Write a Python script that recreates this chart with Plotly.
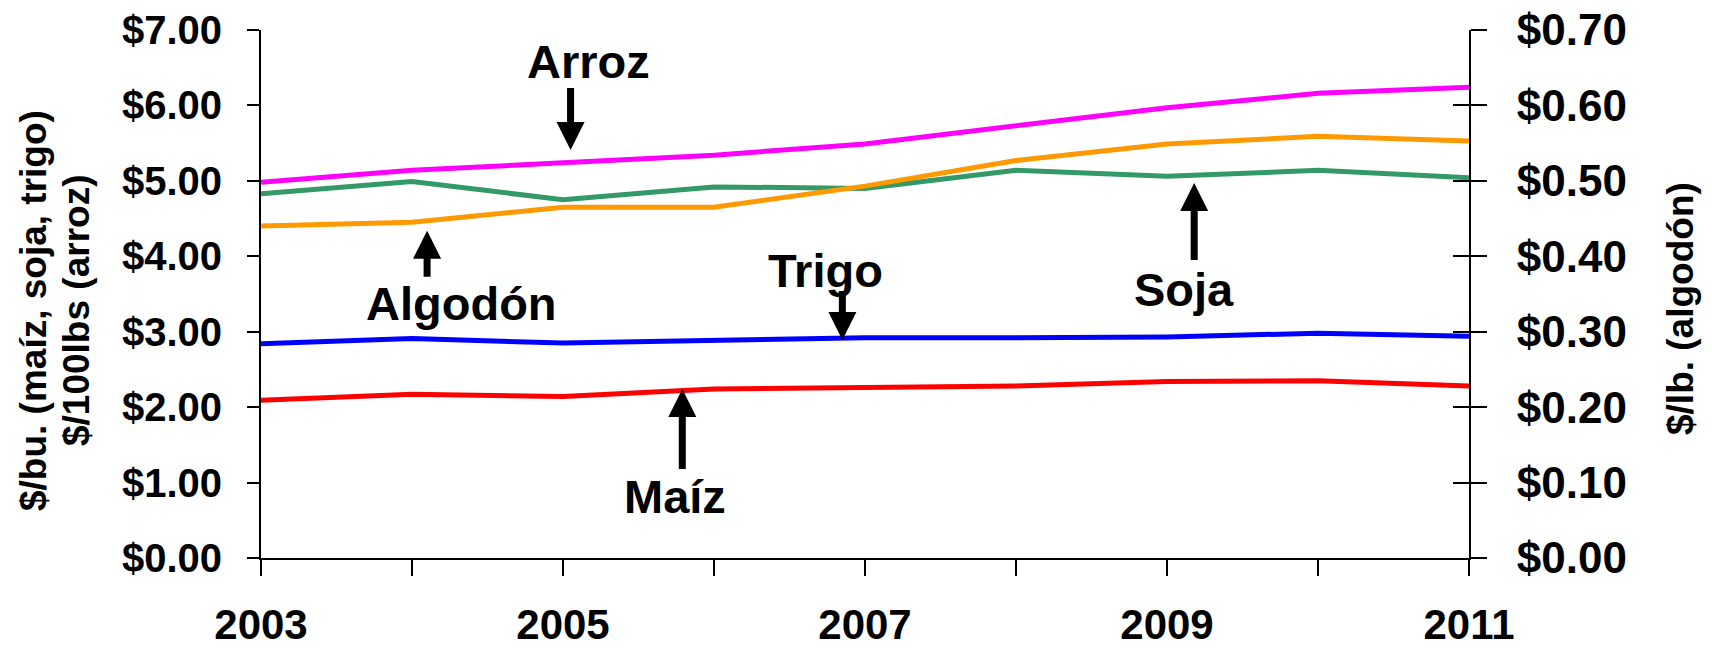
import plotly.graph_objects as go

years = [2003, 2004, 2005, 2006, 2007, 2008, 2009, 2010, 2011]
arroz = [4.98, 5.14, 5.24, 5.34, 5.49, 5.73, 5.97, 6.16, 6.24]
soja = [4.83, 4.99, 4.75, 4.92, 4.90, 5.14, 5.06, 5.14, 5.04]
algodon = [0.440, 0.445, 0.465, 0.465, 0.493, 0.527, 0.549, 0.559, 0.553]
trigo = [2.84, 2.91, 2.85, 2.88, 2.92, 2.92, 2.93, 2.98, 2.94]
maiz = [2.09, 2.17, 2.14, 2.24, 2.26, 2.28, 2.34, 2.35, 2.28]

x_ticktext = ["2003", "", "2005", "", "2007", "", "2009", "", "2011"]
left_ticks = [0, 1, 2, 3, 4, 5, 6, 7]
right_ticks = [0.0, 0.1, 0.2, 0.3, 0.4, 0.5, 0.6, 0.7]

FONT = "Liberation Sans, Arial, sans-serif"
LW = 5

fig = go.Figure()
fig.add_trace(go.Scatter(x=years, y=arroz, mode="lines", name="Arroz",
                         line=dict(color="#FF00FF", width=LW), yaxis="y"))
fig.add_trace(go.Scatter(x=years, y=soja, mode="lines", name="Soja",
                         line=dict(color="#339966", width=LW), yaxis="y"))
fig.add_trace(go.Scatter(x=years, y=algodon, mode="lines", name="Algodón",
                         line=dict(color="#FF9900", width=LW), yaxis="y2"))
fig.add_trace(go.Scatter(x=years, y=trigo, mode="lines", name="Trigo",
                         line=dict(color="#0000FF", width=LW), yaxis="y"))
fig.add_trace(go.Scatter(x=years, y=maiz, mode="lines", name="Maíz",
                         line=dict(color="#FF0000", width=LW), yaxis="y"))

label_font = dict(family=FONT, size=47, color="black", weight="bold")

# text labels: (text, x-year, y-value)
labels = [
    ("Arroz", 2005.17, 6.58),
    ("Algodón", 2004.33, 3.37),
    ("Trigo", 2006.74, 3.81),
    ("Soja", 2009.11, 3.56),
    ("Maíz", 2005.74, 0.81),
]
for t, xx, yy in labels:
    fig.add_annotation(x=xx, y=yy, xref="x", yref="y", text=t, showarrow=False,
                       font=label_font, xanchor="center", yanchor="middle")

# arrows: (x-year, tail value, tip value)
arrows = [
    (2005.05, 6.25, 5.41),
    (2004.10, 3.71, 4.34),
    (2006.85, 3.56, 2.89),
    (2009.18, 3.93, 4.97),
    (2005.79, 1.16, 2.24),
]
for xx, tail, tip in arrows:
    fig.add_annotation(x=xx, y=tip, xref="x", yref="y", ax=xx, ay=tail,
                       axref="x", ayref="y", text="", showarrow=True,
                       arrowhead=2, arrowsize=0.8, arrowwidth=7,
                       arrowcolor="black", standoff=0, startstandoff=0)

title_font = dict(family=FONT, size=37, color="black", weight="bold")
fig.add_annotation(x=0, y=0.5, xref="paper", yref="paper", xshift=-228, yshift=-17,
                   text="$/bu. (maíz, soja, trigo)", textangle=-90, showarrow=False,
                   font=title_font, xanchor="center", yanchor="middle")
fig.add_annotation(x=0, y=0.5, xref="paper", yref="paper", xshift=-185, yshift=-17,
                   text="$/100lbs (arroz)", textangle=-90, showarrow=False,
                   font=title_font, xanchor="center", yanchor="middle")
fig.add_annotation(x=1, y=0.5, xref="paper", yref="paper", xshift=211, yshift=-15,
                   text="$/lb. (algodón)", textangle=-90, showarrow=False,
                   font=title_font, xanchor="center", yanchor="middle")

fig.update_layout(
    width=1712, height=648,
    margin=dict(l=261, r=243, t=30, b=90),
    paper_bgcolor="white", plot_bgcolor="white",
    showlegend=False,
    xaxis=dict(range=[2003, 2011], tickvals=years, ticktext=x_ticktext,
               automargin=False, ticklabeloverflow="allow",
               showgrid=False, zeroline=False, showline=True, linecolor="black",
               linewidth=2, ticks="outside", ticklen=16, tickwidth=2,
               tickcolor="black", ticklabelstandoff=13,
               tickfont=dict(family=FONT, size=42, color="black", weight="bold")),
    yaxis=dict(range=[0, 7], tickvals=left_ticks, tickformat="$.2f",
               automargin=False, ticklabeloverflow="allow",
               showgrid=False, zeroline=False, showline=True, linecolor="black",
               linewidth=2, ticks="outside", ticklen=12, tickwidth=2,
               tickcolor="black", ticklabelstandoff=17,
               tickfont=dict(family=FONT, size=40, color="black", weight="bold")),
    yaxis2=dict(range=[0, 0.7], tickvals=right_ticks, tickformat="$.2f",
                overlaying="y", side="right", anchor="x", automargin=False,
                ticklabeloverflow="allow",
                showgrid=False, zeroline=False, showline=True, linecolor="black",
                linewidth=2, ticks="outside", ticklen=16, tickwidth=2,
                tickcolor="black", ticklabelstandoff=21,
                tickfont=dict(family=FONT, size=44, color="black", weight="bold")),
    yaxis3=dict(range=[0, 0.7], tickvals=right_ticks, overlaying="y",
                side="right", anchor="x", showticklabels=False, automargin=False,
                showgrid=False, zeroline=False, showline=False,
                ticks="inside", ticklen=16, tickwidth=2, tickcolor="black"),
)

# invisible trace to activate yaxis3 (inside ticks forming cross ticks on the right axis)
fig.add_trace(go.Scatter(x=[years[0]], y=[right_ticks[0]], yaxis="y3", mode="markers",
                         marker=dict(opacity=0), hoverinfo="skip", showlegend=False))

# remove the default 8px page margin so the 1712x648 figure fills the window exactly
fig.write_html("out.html", config={"displayModeBar": False},
               post_script="document.body.style.margin='0';document.body.style.overflow='hidden';")
